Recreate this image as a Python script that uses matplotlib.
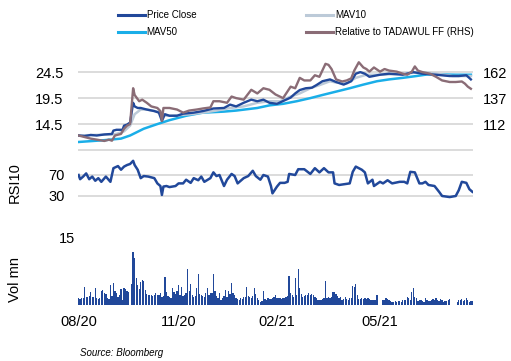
import numpy as np
import pandas as pd
import matplotlib
matplotlib.use('Agg')
import matplotlib.pyplot as plt
from matplotlib.lines import Line2D

plt.rcParams['font.family'] = ['Liberation Sans', 'DejaVu Sans']

nan = np.nan

# trading calendar (Bloomberg weekday axis)
calendar = pd.bdate_range('2020-08-06', '2021-08-05')

# series: (trading day number, value)
price_close = [(0, 12.3), (4, 12.2), (8, 12.4), (12, 12.3), (17, 12.5), (22, 12.6), (23, 13.25),
               (25, 13.4), (29, 13.4), (30, 14.2), (32, 14.4), (34, 14.8), (36, 18.6), (37, 17.9),
               (39, 17.6), (41, 17.6), (45, 17.3), (50, 17.0), (53, 16.7), (55, 15.1), (57, 16.4),
               (60, 16.1), (65, 16.1), (69, 16.5), (76, 16.7), (82, 17.0), (89, 17.5), (96, 17.6),
               (100, 18.25), (104, 17.9), (109, 18.6), (114, 19.2), (118, 18.9), (122, 19.2),
               (126, 18.6), (131, 18.4), (137, 19.2), (140, 19.6), (143, 20.4), (146, 21.05),
               (150, 21.4), (154, 21.5), (157, 22.0), (161, 22.75), (166, 23.1), (170, 22.6),
               (175, 22.1), (180, 22.75), (183, 24.2), (186, 24.5), (189, 24.2), (192, 23.6),
               (199, 24.0), (205, 24.2), (214, 24.0), (221, 24.5), (227, 24.2), (236, 24.0),
               (245, 23.75), (251, 23.75), (256, 23.9), (259, 23.1)]

mav10 = [(0, 12.3), (10, 12.4), (22, 12.5), (25, 12.6), (30, 13.1), (34, 14.2), (37, 16.4),
         (41, 17.3), (45, 17.3), (52, 16.9), (58, 16.1), (65, 16.2), (74, 16.4), (82, 16.7),
         (91, 17.1), (100, 17.6), (109, 17.9), (118, 18.6), (126, 18.9), (133, 18.9),
         (140, 19.8), (146, 20.4), (153, 21.4), (159, 22.0), (166, 22.75), (170, 22.5),
         (177, 22.3), (183, 23.4), (190, 24.0), (199, 24.0), (214, 24.2), (227, 24.5),
         (236, 24.2), (247, 23.75), (259, 23.75)]

mav50 = [(0, 11.05), (17, 11.4), (28, 11.7), (34, 12.3), (43, 13.6), (52, 14.5), (60, 15.25),
         (71, 16.1), (82, 16.7), (96, 16.9), (104, 17.1), (118, 17.6), (126, 18.1), (135, 18.4),
         (144, 18.9), (153, 19.5), (161, 20.1), (170, 20.75), (179, 21.4), (188, 22.1),
         (197, 22.75), (205, 23.1), (214, 23.4), (223, 23.75), (230, 24.05), (240, 24.05),
         (249, 24.0), (259, 24.0)]

relative = [(0, 101), (4, 99.5), (8, 98), (12, 97), (17, 95.75), (20, 97), (22, 96), (24, 101),
            (28, 102.5), (30, 107.5), (32, 110.5), (34, 112), (36, 146.5), (37, 140), (40, 134),
            (42, 135.5), (45, 132.5), (48, 129), (52, 127.5), (54, 124.5), (55, 115), (56, 127.5),
            (60, 127.5), (65, 126), (69, 123), (73, 125), (78, 126), (82, 127), (87, 128),
            (89, 134), (93, 134), (98, 132.5), (101, 138.5), (104, 137), (109, 135.5), (114, 145),
            (118, 141.5), (122, 146.5), (126, 145), (130, 140.5), (135, 137), (140, 148),
            (143, 146.5), (146, 156.5), (149, 154), (153, 154), (156, 159), (159, 157.5),
            (163, 170), (165, 169), (167, 165), (170, 155), (174, 153), (177, 154), (180, 156),
            (182, 163.5), (185, 171.5), (188, 166.5), (190, 165), (192, 162.5), (195, 166.5),
            (199, 162.5), (202, 165), (205, 163.5), (210, 162.5), (214, 160.5), (217, 159.5),
            (220, 162.5), (222, 167.5), (224, 163.5), (227, 162), (232, 160.5), (236, 157.5),
            (240, 154), (245, 152.5), (249, 152.5), (253, 153), (255, 151), (257, 148), (259, 146)]

rsi10 = [(0, 70), (1, 62), (3, 67), (5, 73), (7, 62), (9, 67), (11, 59), (13, 64), (15, 57),
         (18, 67), (21, 57), (23, 83), (26, 87), (28, 80), (30, 86), (32, 89), (34, 91), (36, 97),
         (37, 89), (39, 80), (41, 64), (43, 68), (46, 67), (50, 64), (52, 54), (54, 49), (55, 32),
         (56, 48), (58, 49), (60, 47), (64, 49), (66, 54), (69, 54), (71, 61), (74, 55), (76, 64),
         (79, 60), (81, 67), (83, 57), (87, 64), (89, 75), (91, 68), (93, 70), (96, 49), (98, 61),
         (101, 72), (103, 68), (105, 54), (109, 64), (112, 68), (115, 78), (117, 68), (120, 61),
         (122, 70), (125, 67), (127, 49), (128, 35), (131, 48), (133, 55), (136, 55), (138, 57),
         (139, 72), (143, 70), (145, 81), (149, 81), (153, 72), (156, 83), (159, 75), (162, 83),
         (165, 75), (168, 75), (169, 54), (172, 51), (179, 54), (181, 76), (183, 86), (187, 80),
         (189, 75), (191, 54), (194, 61), (195, 49), (199, 57), (201, 54), (204, 60), (207, 54),
         (212, 57), (215, 57), (217, 54), (219, 76), (222, 75), (225, 54), (227, 54), (229, 57),
         (231, 51), (235, 49), (238, 38), (240, 30), (245, 28), (249, 30), (251, 41), (253, 57),
         (256, 55), (258, 43), (260, 38)]

# daily volume (mn), one list per month, nan = no data
vol_2020_08 = [1.5, 1.4, 1.6, 1.5, 3.9, 1.8, 1.7, 1.9, 2.8, 1.8, 1.7, 3.8, 1.5, 1.4, 1.5, 3.1, 3.3, 2.6]
vol_2020_09 = [2.4, 1.5, 1.4, 4.4, 2.0, 4.9, 3.0, 2.7, 1.8, 2.2, 3.5, 1.1, 3.7, 3.5, 3.1, 2.9, nan,
               4.6, 11.8, 10.4, 5.9, 4.4]
vol_2020_10 = [3.6, 5.0, 5.5, 5.2, 3.3, 2.4, 2.2, 2.1, 2.3, 2.0, 2.1, 2.7, 2.1, 2.2, 2.6, 1.8, 2.0,
               6.1, 2.9, 2.0, 1.7, 1.5]
vol_2020_11 = [3.7, 2.9, 2.5, 3.1, 4.4, 2.3, 4.0, 2.0, 2.2, 2.6, 7.9, 3.0, 4.6, 2.2, 1.8, 2.0, 3.8,
               6.8, 2.5, 2.3, 1.9]
vol_2020_12 = [1.8, 2.6, 3.8, 2.2, 2.6, 2.6, 6.8, 3.1, 2.0, 1.5, 2.6, 1.1, 1.6, 2.0, 3.3, 1.8, 3.1,
               2.4, 4.8, 2.6, 2.2, 1.5, 1.3]
vol_2021_01 = [1.1, 1.5, 1.4, 1.8, 1.8, 3.9, 2.0, 1.8, 1.6, 2.0, 3.7, 2.4, 1.6, 1.1, 0.7, 0.9, 3.1,
               1.4, 1.1, 1.6, 1.4]
vol_2021_02 = [1.3, 1.6, 1.8, 2.1, 1.5, 1.5, 1.5, 1.4, 1.6, 1.5, 1.8, 2.0, 6.3, 2.7, 2.2, 1.8, 5.9,
               2.3, 7.9, 3.8]
vol_2021_03 = [2.5, 1.8, 2.0, 2.1, 2.1, 2.6, 2.1, 2.4, 2.2, 1.8, 1.6, 1.1, 1.2, 1.1, 1.3, 1.5, 5.3,
               1.6, 1.8, 1.6, 1.7, 2.9, 2.9]
vol_2021_04 = [2.4, 2.0, 1.5, 1.8, 1.1, 1.4, 1.8, 1.3, 1.1, 1.5, 1.6, 4.2, 4.0, 4.6, 2.2, 1.3, 1.3,
               1.5, 1.4, 1.5, 1.3, 1.5]
vol_2021_05 = [1.3, 1.1, 1.2, 1.1, 1.1, 2.1, nan, nan, nan, 1.1, 1.2, 1.5, 1.3, 1.0, 0.9, 0.6, 0.7,
               0.8, 0.7, 0.9, 0.9]
vol_2021_06 = [0.7, 1.1, 1.0, 1.1, 1.8, 1.5, 1.2, 2.9, 3.8, 1.8, 1.5, 0.9, 1.1, 1.0, 0.9, 0.7, 1.5,
               1.1, 0.9, 0.9, 1.0, 1.3]
vol_2021_07 = [1.1, 1.5, 1.0, 0.9, 1.3, 1.1, 0.7, 0.8, 0.9, 1.0, 1.3, nan, nan, nan, nan, 0.7, 1.1,
               1.0, 1.3, 0.9, 1.2, 1.5]
vol_2021_08 = [1.1, 0.7, 0.9, 0.8]

volume = (vol_2020_08 + vol_2020_09 + vol_2020_10 + vol_2020_11 + vol_2020_12 + vol_2021_01
          + vol_2021_02 + vol_2021_03 + vol_2021_04 + vol_2021_05 + vol_2021_06 + vol_2021_07
          + vol_2021_08)

tick_dates = ['2020-08-06', '2020-11-06', '2021-02-05', '2021-05-12']
tick_labels = ['08/20', '11/20', '02/21', '05/21']

c_price = '#21489a'
c_mav10 = '#bccad8'
c_mav50 = '#1aaee8'
c_rel = '#8a6c76'
c_grid = '#d6d6d6'

W, H = 511, 361
fig = plt.figure(figsize=(W / 100, H / 100), dpi=100)


def box(x0, y0, x1, y1):
    return [x0 / W, 1 - y1 / H, (x1 - x0) / W, (y1 - y0) / H]


ax1 = fig.add_axes(box(78, 55, 473, 151.6))
ax1r = ax1.twinx()
ax2 = fig.add_axes(box(78, 153, 473, 205))
ax3 = fig.add_axes(box(78, 225, 473, 305))

n = len(calendar)
for ax in (ax1, ax1r, ax2, ax3):
    ax.set_xlim(-0.4, n - 0.6)
    for s in ax.spines.values():
        s.set_visible(False)
    ax.tick_params(length=0, labelsize=10.5)


def xy(pts):
    d, v = zip(*pts)
    return np.array(d), np.array(v)


# price panel
for g in [9.5, 14.5, 19.5, 24.5]:
    ax1.axhline(g, color=c_grid, lw=1.2, zorder=0)
ax1.plot(*xy(mav50), color=c_mav50, lw=1.8)
ax1.plot(*xy(mav10), color=c_mav10, lw=1.8)
ax1.plot(*xy(price_close), color=c_price, lw=1.7)
ax1r.plot(*xy(relative), color=c_rel, lw=1.7)
ax1.set_ylim(9.2, 27.8)
ax1r.set_ylim(9.2 * 5 + 39.5, 27.8 * 5 + 39.5)
ax1.set_yticks([14.5, 19.5, 24.5])
ax1.set_yticklabels(['14.5', '19.5', '24.5'])
ax1r.set_yticks([112, 137, 162])
ax1.tick_params(axis='y', pad=10.5)
ax1r.tick_params(axis='y', pad=7)
ax1.set_xticks([])

# RSI panel
for g in [30, 70]:
    ax2.axhline(g, color=c_grid, lw=1.2, zorder=0)
ax2.plot(*xy(rsi10), color=c_price, lw=1.8)
ax2.set_ylim(12.85, 111.9)
ax2.set_yticks([30, 70])
ax2.tick_params(axis='y', pad=9.5)
ax2.set_xticks([])

# volume panel
m = min(n, len(volume))
ax3.bar(np.arange(m), volume[:m], width=0.85, color=c_price, linewidth=0)
ax3.set_ylim(0, 17.66)
ax3.set_yticks([15])
ax3.tick_params(axis='y', pad=2)
ax3.set_xticks(calendar.get_indexer(pd.to_datetime(tick_dates)))
ax3.set_xticklabels(tick_labels)
ax3.tick_params(axis='x', pad=7)

fig.text(15 / W, 1 - 183 / H, 'RSI10', rotation=90, ha='center', va='center', fontsize=10.5)
fig.text(15 / W, 1 - 279 / H, 'Vol mn', rotation=90, ha='center', va='center', fontsize=10.5)
fig.text(80 / W, 1 - 353 / H, 'Source: Bloomberg', style='italic', ha='left', va='center',
         fontsize=7)

handles = [Line2D([], [], color=c_price, lw=2.2), Line2D([], [], color=c_mav50, lw=2.2),
           Line2D([], [], color=c_mav10, lw=2.2), Line2D([], [], color=c_rel, lw=2.2)]
labels = ['Price Close', 'MAV50', 'MAV10', 'Relative to TADAWUL FF (RHS)']
fig.legend(handles, labels, ncol=2, loc='upper left', bbox_to_anchor=(118 / W, 1 - 10 / H),
           frameon=False, fontsize=7, handlelength=2.8, handletextpad=0.15,
           columnspacing=11.3, labelspacing=0.75, borderpad=0, borderaxespad=0)

fig.savefig('out.png', dpi=100)
